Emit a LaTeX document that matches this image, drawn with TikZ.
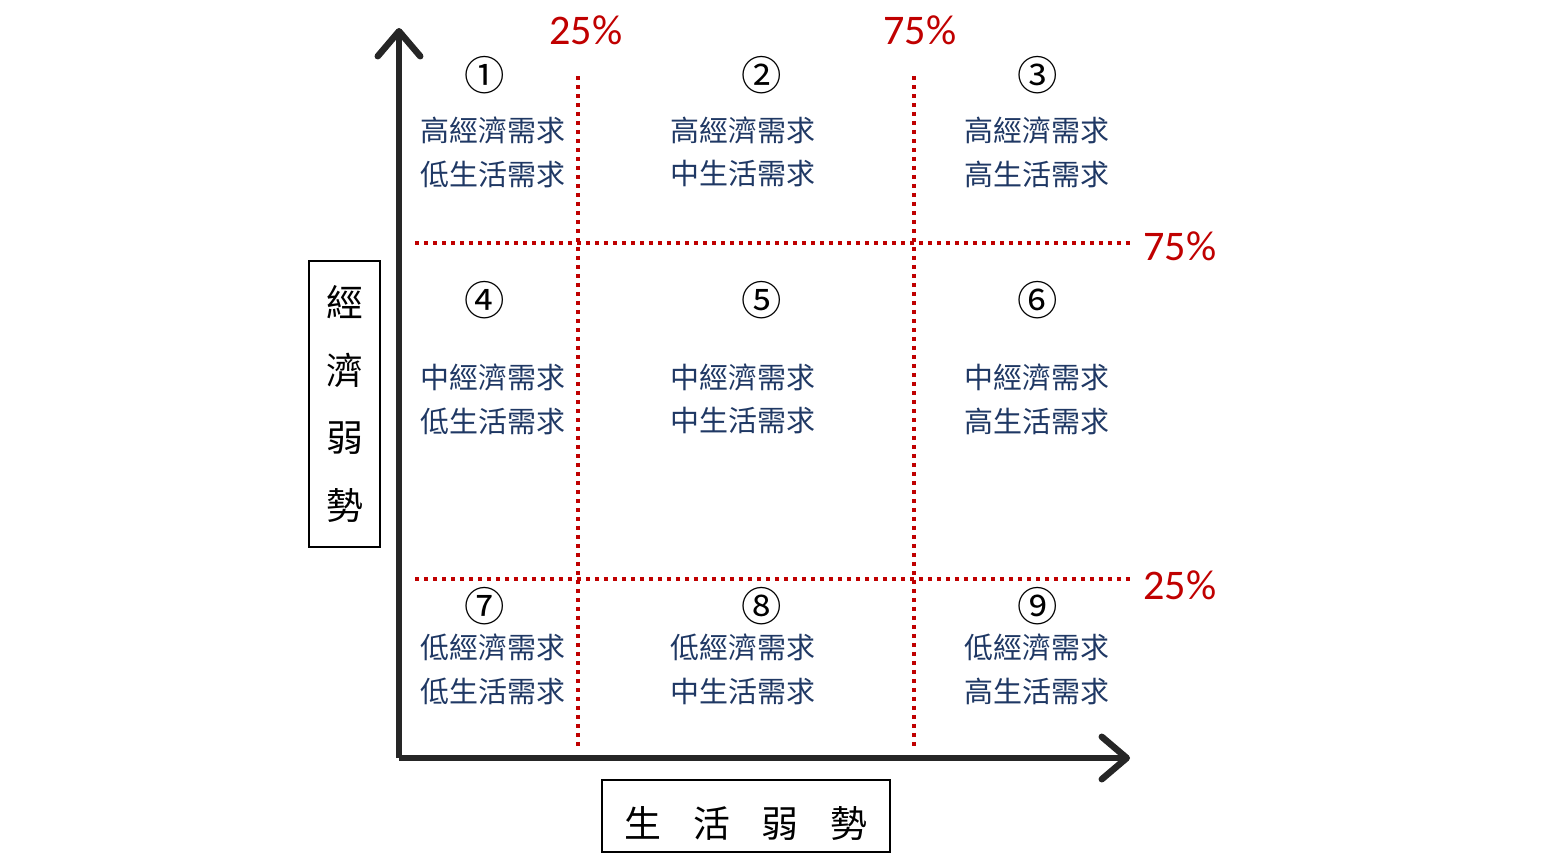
\documentclass[tikz,border=0pt]{standalone}
\usepackage[RGB]{xcolor}
\usepackage{fontspec}
\setmainfont{Noto Sans CJK TC}
\newfontfamily\pctfont{Carlito}
\usetikzlibrary{arrows.meta}
\definecolor{navy}{RGB}{31,56,100}
\definecolor{pctred}{RGB}{192,0,0}
\definecolor{axisgray}{RGB}{38,38,38}
\newcommand{\drawaxis}{\draw[axisgray, line width=0.13cm, -{Straight Barb[length=0.5cm, width=0.85cm, round]}]}
\newcommand{\drawdotted}{\draw[pctred, line width=0.085cm, dash pattern=on 0.085cm off 0.095cm]}
\newcommand{\pctlabel}[4]{\node[pct] (#1) at (#2,#3) {#4};}
% name, digit, circle x, circle y, text x, text y, line 1, line 2
\newcommand{\needcell}[8]{
  \node[circnum] (c#1) at (#3,#4) {#2};
  \node[needtext] (e#1) at (#5,#6) {#7};
  \node[needtext] (l#1) at (#5,#6+44) {#8};
}
\begin{document}
\begin{tikzpicture}[x=0.02cm, y=-0.02cm,
  pct/.style={text=pctred, font=\pctfont\fontsize{24}{24}\selectfont, inner sep=0pt},
  circnum/.style={font=\fontsize{23}{23}\selectfont, inner sep=0pt},
  needtext/.style={text=navy, font=\fontsize{16.5}{16.5}\selectfont, inner sep=0pt},
  axisbox/.style={draw, line width=0.8pt, inner sep=0pt, font=\fontsize{21}{38.6}\selectfont, align=center}]
\useasboundingbox (0,0) rectangle (1558,866);
\coordinate (O) at (399,758);
\coordinate (ytip) at (399,28);
\coordinate (xtip) at (1130,758);
\foreach \x in {578,914}{
  \drawdotted (\x,76)--(\x,748);
}
\foreach \y in {243,579}{
  \drawdotted (415,\y)--(1130,\y);
}
\drawaxis (O)--(ytip);
\drawaxis (O)--(xtip);
\pctlabel{ptop25}{586}{30}{25\%}\pctlabel{ptop75}{920}{30}{75\%}\pctlabel{pright75}{1180}{246}{75\%}\pctlabel{pright25}{1180}{585}{25\%}
\needcell{1}{①}{485}{75}{493}{130}{高經濟需求}{低生活需求}
\needcell{2}{②}{762}{75}{743}{130}{高經濟需求}{中生活需求}
\needcell{3}{③}{1038}{75}{1037}{130}{高經濟需求}{高生活需求}
\needcell{4}{④}{485}{300}{493}{377}{中經濟需求}{低生活需求}
\needcell{5}{⑤}{762}{300}{743}{377}{中經濟需求}{中生活需求}
\needcell{6}{⑥}{1038}{300}{1037}{377}{中經濟需求}{高生活需求}
\needcell{7}{⑦}{485}{606}{493}{647}{低經濟需求}{低生活需求}
\needcell{8}{⑧}{762}{606}{743}{647}{低經濟需求}{中生活需求}
\needcell{9}{⑨}{1038}{606}{1037}{647}{低經濟需求}{高生活需求}
\node[axisbox, minimum width=1.42cm, minimum height=5.72cm] (econ) at (344.5,404) {經\\濟\\弱\\勢};
\node[axisbox, minimum width=5.76cm, minimum height=1.44cm, text height=0.93cm, text depth=0.09cm] (life) at (746,816) {生\hspace{0.64cm}活\hspace{0.64cm}弱\hspace{0.64cm}勢};
\end{tikzpicture}
\end{document}
